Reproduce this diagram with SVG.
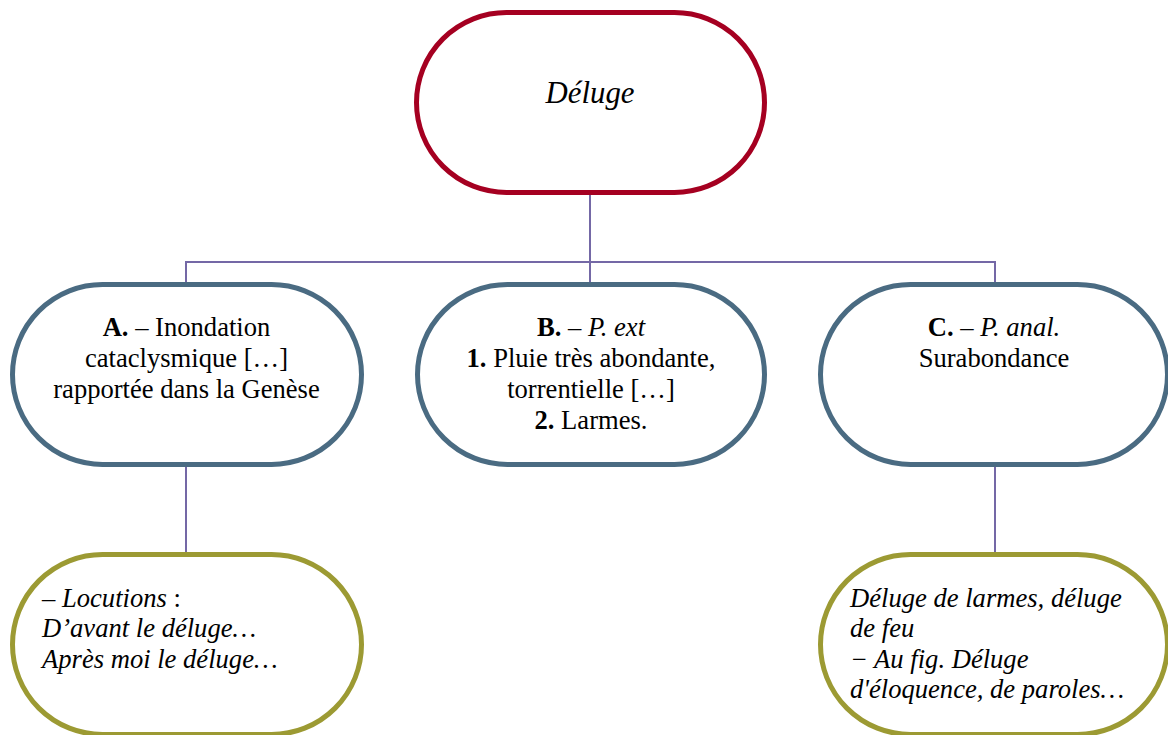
<svg xmlns="http://www.w3.org/2000/svg" width="1168" height="735" viewBox="0 0 1168 735">
<style>
.n{fill:#fff;stroke-width:5}
.top{stroke:#A50021}
.mid{stroke:#4A6B82}
.bot{stroke:#9C9A33}
.t{font-family:"Liberation Serif","Times New Roman",serif;font-size:26.6px;fill:#000}
.c{text-anchor:middle}
.i{font-style:italic}
.b{font-weight:bold}
.con{fill:none;stroke:#7468A6;stroke-width:2}
</style>
<rect width="1168" height="735" fill="#fff"/>
<g id="connectors" class="con">
<path d="M590,195 V284"/>
<path d="M186,284 V262 H995 V284"/>
<path d="M186,467 V554"/>
<path d="M995,467 V554"/>
</g>
<g id="node-deluge">
<rect class="n top" x="416.5" y="12.5" width="348" height="180" rx="90"/>
<text class="t c i" x="590" y="103" style="font-size:30.8px">Déluge</text>
</g>
<g id="node-a">
<rect class="n mid" x="12.5" y="284.5" width="349" height="180" rx="90"/>
<text class="t c" x="186.5" y="336"><tspan class="b">A.</tspan> – Inondation</text>
<text class="t c" x="186.5" y="367">cataclysmique […]</text>
<text class="t c" x="186.5" y="398">rapportée dans la Genèse</text>
</g>
<g id="node-b">
<rect class="n mid" x="417.5" y="284.5" width="347" height="180" rx="90"/>
<text class="t c" x="591" y="336"><tspan class="b">B.</tspan> – <tspan class="i">P. ext</tspan></text>
<text class="t c" x="591" y="367"><tspan class="b">1.</tspan> Pluie très abondante,</text>
<text class="t c" x="591" y="398">torrentielle […]</text>
<text class="t c" x="591" y="429"><tspan class="b">2.</tspan> Larmes.</text>
</g>
<g id="node-c">
<rect class="n mid" x="820.5" y="284.5" width="347" height="180" rx="90"/>
<text class="t c" x="994" y="336"><tspan class="b">C.</tspan> – <tspan class="i">P. anal.</tspan></text>
<text class="t c" x="994" y="367">Surabondance</text>
</g>
<g id="node-locutions">
<rect class="n bot" x="12.5" y="554.5" width="349" height="180" rx="90"/>
<text class="t" x="42" y="607">– <tspan class="i">Locutions</tspan> :</text>
<text class="t i" x="42" y="637">D’avant le déluge…</text>
<text class="t i" x="42" y="668">Après moi le déluge…</text>
</g>
<g id="node-figure">
<rect class="n bot" x="820.5" y="554.5" width="347" height="180" rx="90"/>
<text class="t i" x="850" y="607">Déluge de larmes, déluge</text>
<text class="t i" x="850" y="637">de feu</text>
<text class="t i" x="850" y="668">− Au fig. Déluge</text>
<text class="t i" x="850" y="698">d'éloquence, de paroles…</text>
</g>
</svg>
